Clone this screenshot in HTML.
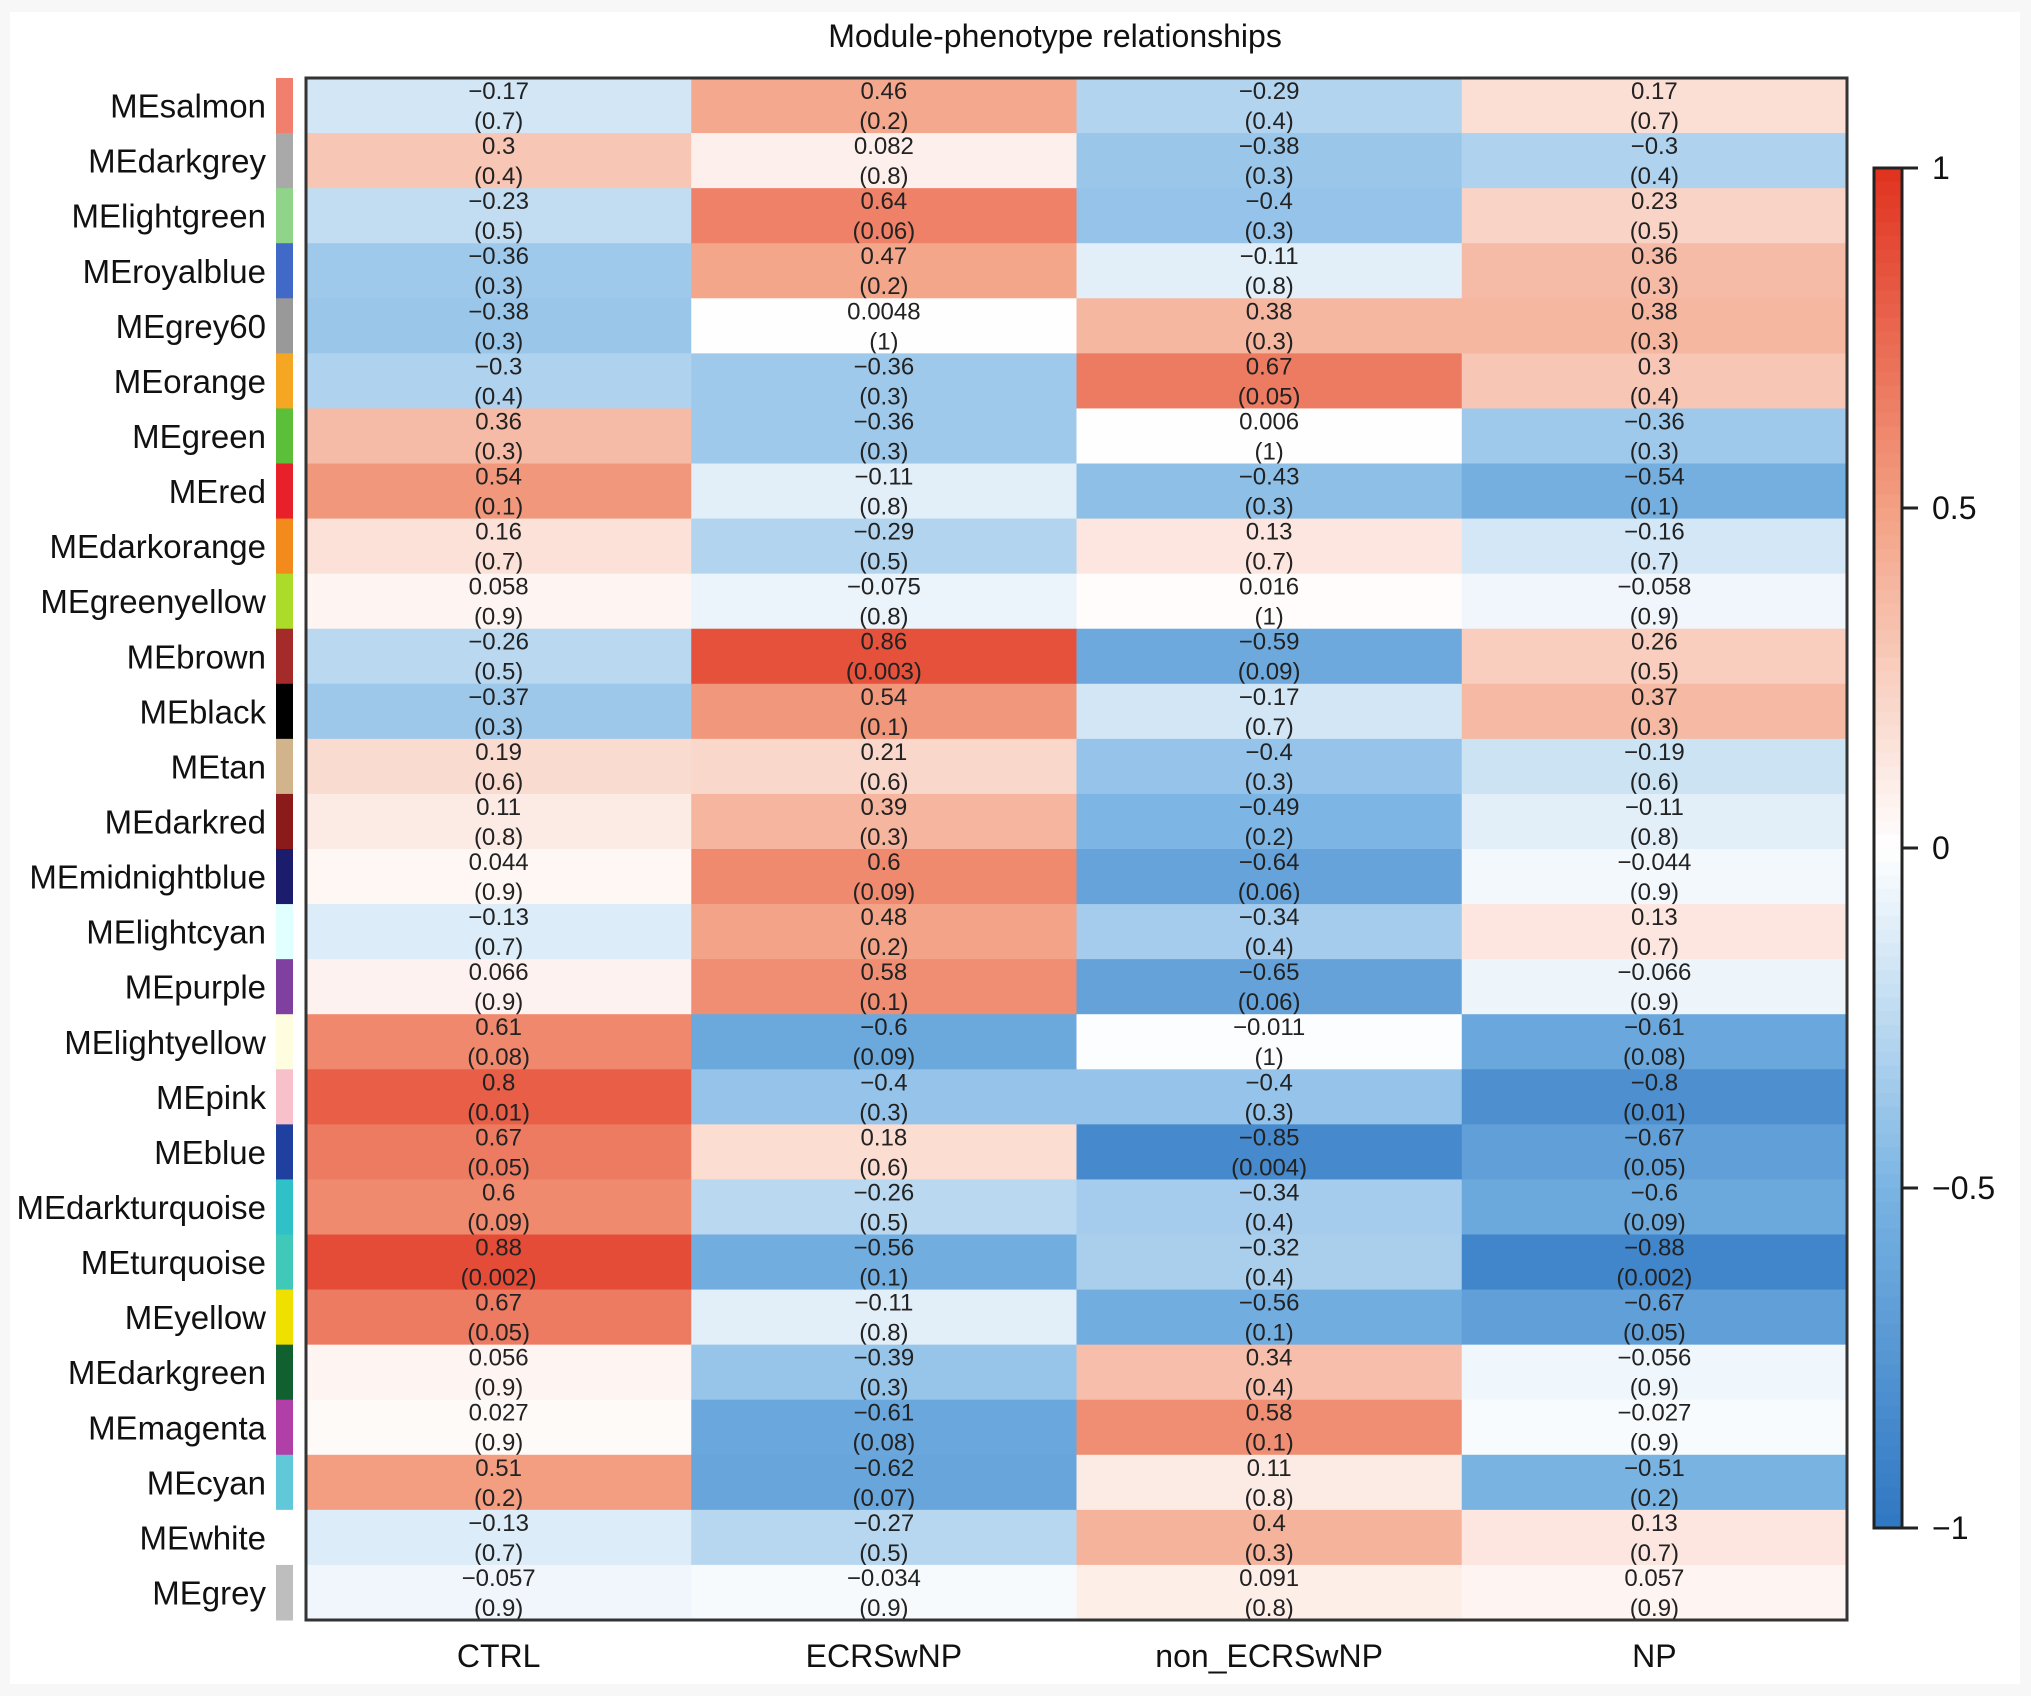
<!DOCTYPE html>
<html><head><meta charset="utf-8"><style>
html,body{margin:0;padding:0;background:#f7f7f7;}
svg{display:block;font-family:"Liberation Sans",sans-serif;}
</style></head><body>
<svg id="chart" width="2031" height="1696" viewBox="0 0 2031 1696" xmlns="http://www.w3.org/2000/svg">
<rect x="10" y="12" width="2010" height="1672" fill="#ffffff"/>
<text x="1055" y="47" font-size="32" text-anchor="middle" fill="#111">Module-phenotype relationships</text>
<g id="cells"></g><g id="rowlabels"></g><g id="collabels"></g><g id="cbar"></g>
<rect x="306" y="78" width="1541" height="1542" fill="none" stroke="#333" stroke-width="3"/>
</svg>
<script>
const modules=["MEsalmon","MEdarkgrey","MElightgreen","MEroyalblue","MEgrey60","MEorange","MEgreen","MEred","MEdarkorange","MEgreenyellow","MEbrown","MEblack","MEtan","MEdarkred","MEmidnightblue","MElightcyan","MEpurple","MElightyellow","MEpink","MEblue","MEdarkturquoise","MEturquoise","MEyellow","MEdarkgreen","MEmagenta","MEcyan","MEwhite","MEgrey"];
const moduleColors=["#f07f6e","#a9a9a9","#90d48a","#4169c8","#999999","#f5a623","#5bbf3a","#e8202a","#f28a1c","#acdc2a","#a52a2a","#000000","#d2b48c","#8b1a1a","#1c1c6c","#e0ffff","#8040a0","#fffde0","#f8c0cb","#2040a0","#30c0c8","#40c8b8","#f0e000","#106030","#b040a8","#60c8d8","#ffffff","#bebebe"];
const traits=["CTRL","ECRSwNP","non_ECRSwNP","NP"];
const corCTRL=[-0.17,0.3,-0.23,-0.36,-0.38,-0.3,0.36,0.54,0.16,0.058,-0.26,-0.37,0.19,0.11,0.044,-0.13,0.066,0.61,0.8,0.67,0.6,0.88,0.67,0.056,0.027,0.51,-0.13,-0.057];
const corECRS=[0.46,0.082,0.64,0.47,0.0048,-0.36,-0.36,-0.11,-0.29,-0.075,0.86,0.54,0.21,0.39,0.6,0.48,0.58,-0.6,-0.4,0.18,-0.26,-0.56,-0.11,-0.39,-0.61,-0.62,-0.27,-0.034];
const corNonECRS=[-0.29,-0.38,-0.4,-0.11,0.38,0.67,0.006,-0.43,0.13,0.016,-0.59,-0.17,-0.4,-0.49,-0.64,-0.34,-0.65,-0.011,-0.4,-0.85,-0.34,-0.32,-0.56,0.34,0.58,0.11,0.4,0.091];
const corNP=[0.17,-0.3,0.23,0.36,0.38,0.3,-0.36,-0.54,-0.16,-0.058,0.26,0.37,-0.19,-0.11,-0.044,0.13,-0.066,-0.61,-0.8,-0.67,-0.6,-0.88,-0.67,-0.056,-0.027,-0.51,0.13,0.057];
const pCTRL=["0.7","0.4","0.5","0.3","0.3","0.4","0.3","0.1","0.7","0.9","0.5","0.3","0.6","0.8","0.9","0.7","0.9","0.08","0.01","0.05","0.09","0.002","0.05","0.9","0.9","0.2","0.7","0.9"];
const pECRS=["0.2","0.8","0.06","0.2","1","0.3","0.3","0.8","0.5","0.8","0.003","0.1","0.6","0.3","0.09","0.2","0.1","0.09","0.3","0.6","0.5","0.1","0.8","0.3","0.08","0.07","0.5","0.9"];
const pNonECRS=["0.4","0.3","0.3","0.8","0.3","0.05","1","0.3","0.7","1","0.09","0.7","0.3","0.2","0.06","0.4","0.06","1","0.3","0.004","0.4","0.4","0.1","0.4","0.1","0.8","0.3","0.8"];
const pNP=["0.7","0.4","0.5","0.3","0.3","0.4","0.3","0.1","0.7","0.9","0.5","0.3","0.6","0.8","0.9","0.7","0.9","0.08","0.01","0.05","0.09","0.002","0.05","0.9","0.9","0.2","0.7","0.9"];
const cbTicks=[1,0.5,0,-0.5,-1];
const cbTickLabels=["1","0.5","0","\u22120.5","\u22121"];

const NS="http://www.w3.org/2000/svg";
const X0=306,Y0=78,W=1541,H=1542;
const colW=W/traits.length,rowH=H/modules.length;
const xOf=i=>X0+i*colW, yOf=j=>Y0+j*rowH;
const stops=[[-1,[47,119,194]],[-0.5,[122,180,227]],[0,[255,255,255]],[0.5,[243,160,131]],[1,[224,50,31]]];
function color(v){v=Math.max(-1,Math.min(1,v));for(let k=0;k<stops.length-1;k++){const a=stops[k],b=stops[k+1];if(v<=b[0]){const t=(v-a[0])/(b[0]-a[0]);const c=a[1].map((x,i)=>Math.round(x+(b[1][i]-x)*t));return`rgb(${c.join(',')})`;}}return"rgb(224,50,31)";}
function el(tag,attrs,parent){const e=document.createElementNS(NS,tag);for(const k in attrs)e.setAttribute(k,attrs[k]);parent.appendChild(e);return e;}
const fmt=v=>(v<0?"\u2212":"")+String(Math.abs(v));
const cors=[corCTRL,corECRS,corNonECRS,corNP],ps=[pCTRL,pECRS,pNonECRS,pNP];
const gC=document.getElementById('cells'),gR=document.getElementById('rowlabels'),gL=document.getElementById('collabels'),gB=document.getElementById('cbar');
for(let i=0;i<traits.length;i++){for(let j=0;j<modules.length;j++){
 const r=el('rect',{x:xOf(i),y:yOf(j),width:colW+0.5,height:rowH+0.5,fill:color(cors[i][j])},gC);
 
 
 const cx=xOf(i)+colW/2;
 const t1=el('text',{x:cx,y:yOf(j)+21,'font-size':24,'text-anchor':'middle',fill:'#222'},gC);t1.textContent=fmt(cors[i][j]);
 
 
 const t2=el('text',{x:cx,y:yOf(j)+51,'font-size':24,'text-anchor':'middle',fill:'#222'},gC);t2.textContent='('+ps[i][j]+')';
 
 
}}
for(let j=0;j<modules.length;j++){
 const s=el('rect',{x:276,y:yOf(j),width:17,height:rowH+0.5,fill:moduleColors[j]},gR);
 
 
 const t=el('text',{x:266,y:yOf(j)+rowH/2+12,'font-size':33,'text-anchor':'end',fill:'#111'},gR);t.textContent=modules[j];
 
 
}
for(let i=0;i<traits.length;i++){
 const t=el('text',{x:xOf(i)+colW/2,y:1667,'font-size':32,'text-anchor':'middle',fill:'#111'},gL);t.textContent=traits[i];
 
 
}
const CBX=1874,CBW=28,CBT=168,CBB=1528;
const cy=v=>CBT+(1-v)/2*(CBB-CBT);
const N=100;
for(let k=0;k<N;k++){
 const r=el('rect',{x:CBX,y:CBT+k*(CBB-CBT)/N,width:CBW,height:(CBB-CBT)/N+0.6,fill:color(1-2*(k+0.5)/N)},gB);
 
 
}
const frame=el('rect',{x:CBX,y:CBT,width:CBW,height:CBB-CBT,fill:'none',stroke:'#222','stroke-width':3},gB);


cbTicks.forEach((v,k)=>{
 const l=el('line',{x1:CBX+CBW,x2:CBX+CBW+16,y1:cy(v),y2:cy(v),stroke:'#222','stroke-width':3},gB);
 
 
 const t=el('text',{x:CBX+CBW+30,y:cy(v)+11,'font-size':32,fill:'#111'},gB);t.textContent=cbTickLabels[k];
 
 
});
</script>
</body></html>
